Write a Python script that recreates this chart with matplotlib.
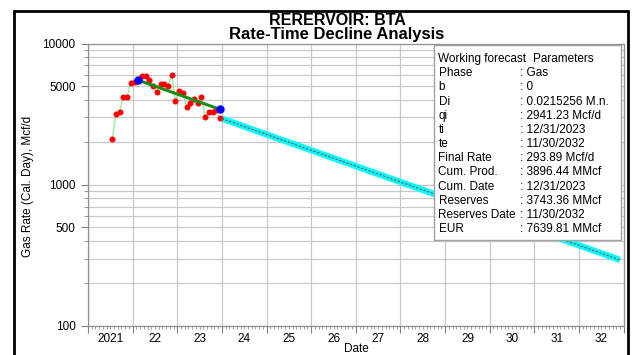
import matplotlib
matplotlib.use("Agg")
import matplotlib.pyplot as plt
import matplotlib.ticker as mticker
from matplotlib.patches import Rectangle
import pandas as pd

plt.rcParams['font.family'] = ['Liberation Sans', 'DejaVu Sans']

# monthly actual gas rate (Mcf/d), Jul 2021 .. Dec 2023
meses = pd.date_range('2021-07-01', '2023-12-01', freq='MS')
vazao = [2095, 3171, 3278, 4188, 4188, 5264, 5375, 5500, 5864, 5864,
         5496, 5036, 4515, 5178, 5178, 5036, 5960, 3943, 4642, 4470,
         3557, 3797, 4052, 3797, 4161, 3001, 3258, 3258, 3365, 2971]

# fitted segment (blue end points, green line)
ajuste_datas = pd.to_datetime(['2022-02-15', '2023-12-15'])
ajuste_vazao = [5500, 3420]

# working forecast qi at ti -> final rate at te
prev_datas = pd.to_datetime(['2023-12-31', '2032-11-30'])
prev_vazao = [2941.23, 293.89]

anos = list(range(2021, 2034))
rotulos_anos = ['2021', '22', '23', '24', '25', '26', '27', '28', '29', '30', '31', '32']
y_ticks = [100, 500, 1000, 5000, 10000]

tabela = [
    ('Phase', ': Gas'),
    ('b', ': 0'),
    ('Di', ': 0.0215256 M.n.'),
    ('qi', ': 2941.23 Mcf/d'),
    ('ti', ': 12/31/2023'),
    ('te', ': 11/30/2032'),
    ('Final Rate', ': 293.89 Mcf/d'),
    ('Cum. Prod.', ': 3896.44 MMcf'),
    ('Cum. Date', ': 12/31/2023'),
    ('Reserves', ': 3743.36 MMcf'),
    ('Reserves Date', ': 11/30/2032'),
    ('EUR', ': 7639.81 MMcf'),
]


def ano_decimal(d):
    d = pd.Timestamp(d)
    dias = 366 if d.is_leap_year else 365
    return d.year + (d.dayofyear - 0.5) / dias


def ano_mes(d):
    return d.year + (d.month - 0.5) / 12


W, H = 633, 355
fig = plt.figure(figsize=(W / 100, H / 100), dpi=100)
esq, dir_, topo, base = 88, 623.7, 43.5, 326
ax = fig.add_axes([esq / W, 1 - base / H, (dir_ - esq) / W, (base - topo) / H])

x_real = [ano_mes(m) for m in meses]
ax.plot(x_real, vazao, color='#90ee90', lw=0.9, zorder=3)
ax.plot(x_real, vazao, 'o', color='#ff0000', ms=3.3, mec='#ff0000', zorder=4)

x_aj = [ano_decimal(d) for d in ajuste_datas]
ax.plot(x_aj, ajuste_vazao, color='#1a8a1a', lw=2.2, zorder=5)
ax.plot(x_aj, ajuste_vazao, 'o', color='#0000ff', ms=5, zorder=6)

x_pv = [ano_decimal(d) for d in prev_datas]
ax.plot(x_pv, prev_vazao, color='#00ffff', lw=4.5, solid_capstyle='butt', zorder=3)
ax.plot(x_pv, prev_vazao, color='#8b4040', lw=0.8, ls=(0, (2, 1.5)), zorder=4)

ax.set_yscale('log')
ax.set_ylim(100, 10000)
ax.set_xlim(2021, 2033)

ax.yaxis.set_major_locator(mticker.FixedLocator(y_ticks))
ax.yaxis.set_major_formatter(mticker.FixedFormatter([str(v) for v in y_ticks]))
ax.yaxis.set_minor_locator(mticker.LogLocator(base=10, subs=(2, 3, 4, 6, 7, 8, 9)))
ax.yaxis.set_minor_formatter(mticker.NullFormatter())

ax.set_xticks(anos)
ax.set_xticklabels([])
ax.xaxis.set_minor_locator(mticker.MultipleLocator(1 / 12))

ax.tick_params(axis='both', which='major', length=5, color='#808080', labelsize=8.5, pad=4)
ax.tick_params(axis='y', which='minor', length=3, color='#808080')
ax.tick_params(axis='x', which='minor', length=2, color='#909090', width=0.6)

ax.grid(True, which='major', color='#c8c8c8', lw=0.9)
ax.grid(True, which='minor', axis='y', color='#c8c8c8', lw=0.9)
ax.set_axisbelow(True)
for s in ax.spines.values():
    s.set_color('#909090')
    s.set_linewidth(0.9)

sec = ax.secondary_xaxis('bottom')
sec.set_xticks([a + 0.5 for a in anos[:-1]])
sec.set_xticklabels(rotulos_anos)
sec.tick_params(length=0, labelsize=8.5, pad=5)
sec.spines['bottom'].set_visible(False)

fig.text(337 / W, 1 - 25 / H, 'RERERVOIR: BTA', ha='center', va='baseline',
         fontsize=11.5, fontweight='bold')
fig.text(337 / W, 1 - 38.5 / H, 'Rate-Time Decline Analysis', ha='center', va='baseline',
         fontsize=12, fontweight='bold')
fig.text(28 / W, 1 - 186 / H, 'Gas Rate (Cal. Day), Mcf/d', rotation=90,
         ha='center', va='center', fontsize=8.5)
fig.text(356 / W, 1 - 349.5 / H, 'Date', ha='center', va='center', fontsize=8.5)


# parameter box
def ax_x(px):
    return (px - esq) / (dir_ - esq)


def ax_y(py):
    return 1 - (py - topo) / (base - topo)


caixa = Rectangle((ax_x(434), ax_y(240)), ax_x(621) - ax_x(434), ax_y(45) - ax_y(240),
                  transform=ax.transAxes, facecolor='white', edgecolor='#a0a0a0',
                  lw=1, zorder=10, clip_on=False)
ax.add_patch(caixa)
ax.text(ax_x(438.5), ax_y(59), 'Working forecast', transform=ax.transAxes,
        ha='left', va='center', fontsize=8.5, zorder=11)
ax.text(ax_x(533), ax_y(59), 'Parameters', transform=ax.transAxes,
        ha='left', va='center', fontsize=8.5, zorder=11)
for i, (nome, valor) in enumerate(tabela):
    yy = ax_y(59 + 14.17 * (i + 1))
    ax.text(ax_x(438.5), yy, nome, transform=ax.transAxes, ha='left', va='center',
            fontsize=8.5, zorder=11)
    ax.text(ax_x(520), yy, valor, transform=ax.transAxes, ha='left', va='center',
            fontsize=8.5, zorder=11)

# outer frame
fig.patches.append(Rectangle((13.5 / W, -0.05), (627.5 - 13.5) / W, 1.05 - 11 / H,
                             transform=fig.transFigure, fill=False, edgecolor='black',
                             lw=2, zorder=20))

fig.savefig('out.png', dpi=100)
